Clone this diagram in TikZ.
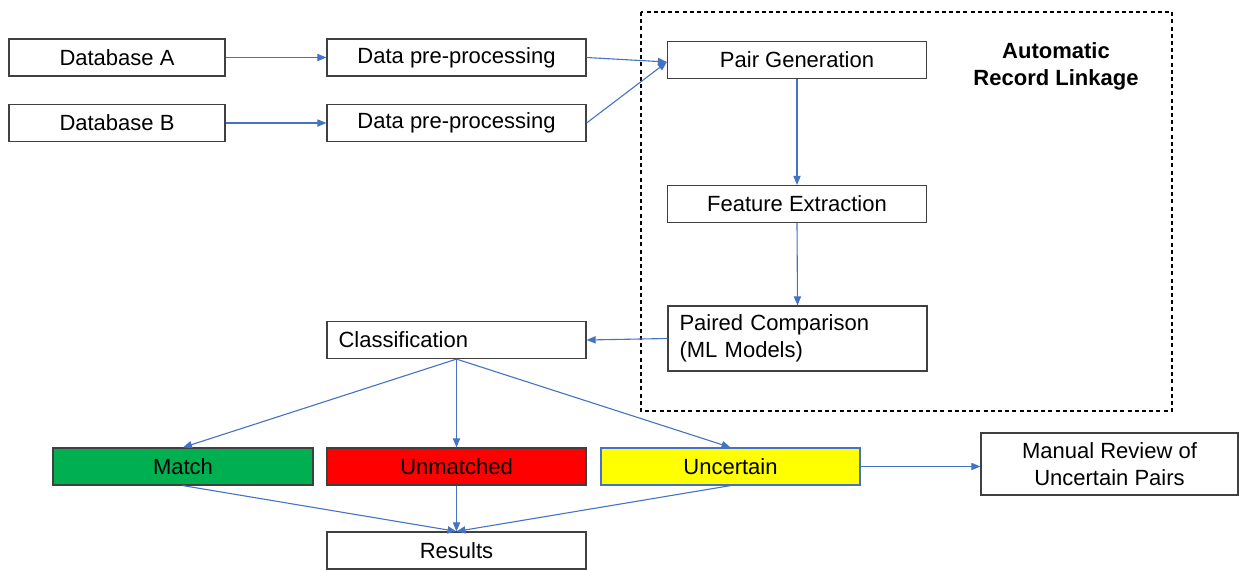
\documentclass[tikz,border=0pt]{standalone}
\usepackage{fontspec}
\setmainfont{Liberation Sans}
\usetikzlibrary{arrows.meta,calc}
\definecolor{edgeblue}{HTML}{4472C4}
\definecolor{boxline}{HTML}{404040}
\definecolor{okgreen}{HTML}{00B050}
\definecolor{badred}{HTML}{FF0000}
\definecolor{unsure}{HTML}{FFFF00}
\begin{document}
\begin{tikzpicture}[x=0.5pt,y=-0.5pt,
  font=\fontsize{11pt}{13.5pt}\selectfont,
  stepbox/.style={draw=boxline,line width=0.6pt,minimum width=129.5pt,minimum height=18.5pt,inner sep=0pt,align=center},
  widebox/.style={stepbox,minimum width=108pt},
  leftbox/.style={stepbox,text width=118pt,inner xsep=5.5pt,align=left},
  flow/.style={draw=edgeblue,line width=0.55pt,-{Triangle[length=4.5pt,width=3.6pt]}}]
\useasboundingbox (0,0) rectangle (1239,569);

% sources and pre-processing
\node[widebox] (dba) at (117,57.5) {Database A};
\node[widebox] (dbb) at (117,123) {Database B};
\node[stepbox] (ppa) at (456.5,57.5) {Data pre-processing};
\node[stepbox] (ppb) at (456.5,123) {Data pre-processing};

% automatic linkage block
\draw[black,line width=0.6pt,dash pattern=on 2pt off 1.6pt] (641,12) rectangle (1172,411);
\node[font=\fontsize{11pt}{13.5pt}\selectfont\bfseries,align=center] (arl) at (1056,66.5) {Automatic\\Record Linkage};
\node[stepbox] (pg) at (797,60) {Pair Generation};
\node[stepbox] (fe) at (797,204) {Feature Extraction};
\node[leftbox,minimum height=32.5pt] (pc) at (797.5,338.5) {Paired Comparison\\(ML Models)};

% classification and outcomes
\node[leftbox] (cl) at (456.5,340) {Classification};
\node[stepbox,fill=okgreen,minimum width=130pt] (ma) at (183,466.5) {Match};
\node[stepbox,fill=badred] (un) at (456.5,466.5) {Unmatched};
\node[stepbox,fill=unsure,draw=edgeblue] (uc) at (730.5,466.5) {Uncertain};
\node[stepbox,minimum width=128.5pt,minimum height=31pt] (mr) at (1109.5,464) {Manual Review of\\Uncertain Pairs};
\node[stepbox] (rs) at (456.5,550.5) {Results};

% connectors
\draw[flow] (dba.east) -- (ppa.west);
\draw[flow] (dbb.east) -- (ppb.west);
\coordinate (pgin) at ($(pg.west)+(0,2)$);
\draw[flow] (ppa.east) -- (pgin);
\draw[flow] (ppb.east) -- (pgin);
\draw[flow] (pg.south) -- (fe.north);
\draw[flow] (fe.south) -- (pc.north);
\draw[flow] (pc.west) -- (cl.east);
\draw[flow] (cl.south) -- (ma.north);
\draw[flow] (cl.south) -- (un.north);
\draw[flow] (cl.south) -- (uc.north);
\draw[flow] (uc.east) -- (uc.east -| mr.west);
\draw[flow] (ma.south) -- (rs.north);
\draw[flow] (un.south) -- (rs.north);
\draw[flow] (uc.south) -- (rs.north);
\end{tikzpicture}
\end{document}
